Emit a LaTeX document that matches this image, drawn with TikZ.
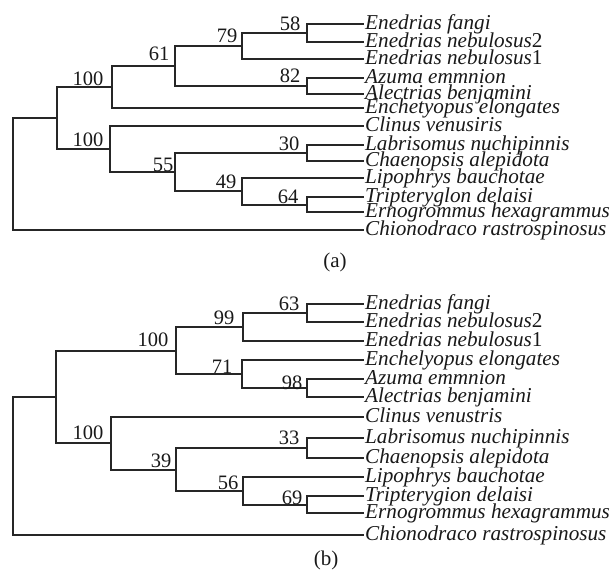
\documentclass[tikz,border=0pt]{standalone}
\usepackage{fontspec}
\setmainfont{Liberation Serif}
\begin{document}
\begin{tikzpicture}[x=1pt,y=-1pt,
  br/.style={draw=black!85, line width=1.2pt},
  leaf/.style={anchor=west, inner xsep=1pt, inner ysep=0pt,
    font=\fontsize{21.2}{21.2}\selectfont\itshape, text=black!90,
    text height=10.6pt, text depth=0pt},
  sup/.style={font=\fontsize{20.5}{20.5}\selectfont, inner sep=0pt,
    text height=13.8pt, text depth=0pt, text=black!90},
  capt/.style={font=\fontsize{21}{21}\selectfont, inner sep=0pt, text=black!90}]
\useasboundingbox (0,0) rectangle (615,570);

% ---------------- tree (a) ----------------
\node[leaf] (a1)  at (364,24)  {Enedrias fangi};
\node[leaf] (a2)  at (364,42)  {Enedrias nebulosus{\upshape 2}};
\node[leaf] (a3)  at (364,59)  {Enedrias nebulosus{\upshape 1}};
\node[leaf] (a4)  at (364,78)  {Azuma emmnion};
\node[leaf] (a5)  at (364,94)  {Alectrias benjamini};
\node[leaf] (a6)  at (364,108) {Enchetyopus elongates};
\node[leaf] (a7)  at (364,126) {Clinus venusiris};
\node[leaf] (a8)  at (364,145) {Labrisomus nuchipinnis};
\node[leaf] (a9)  at (364,161) {Chaenopsis alepidota};
\node[leaf] (a10) at (364,178) {Lipophrys bauchotae};
\node[leaf] (a11) at (364,197) {Tripteryglon delaisi};
\node[leaf] (a12) at (364,212) {Ernogrommus hexagrammus};
\node[leaf] (a13) at (364,230) {Chionodraco rastrospinosus};

\coordinate (a58) at (307,33);
\coordinate (a79) at (242,46);
\coordinate (a82) at (307,86);
\coordinate (a61) at (175,66);
\coordinate (aU)  at (112,87);
\coordinate (a30) at (307,153);
\coordinate (a64) at (307,205);
\coordinate (a49) at (242,191);
\coordinate (a55) at (175,172);
\coordinate (aL)  at (110,149);
\coordinate (aA)  at (57,118);
\coordinate (aR)  at (13,174);

\draw[br] (a58) |- (a1.west);  \draw[br] (a58) |- (a2.west);
\draw[br] (a79) |- (a58);      \draw[br] (a79) |- (a3.west);
\draw[br] (a82) |- (a4.west);  \draw[br] (a82) |- (a5.west);
\draw[br] (a61) |- (a79);      \draw[br] (a61) |- (a82);
\draw[br] (aU)  |- (a61);      \draw[br] (aU)  |- (a6.west);
\draw[br] (a30) |- (a8.west);  \draw[br] (a30) |- (a9.west);
\draw[br] (a64) |- (a11.west); \draw[br] (a64) |- (a12.west);
\draw[br] (a49) |- (a10.west); \draw[br] (a49) |- (a64);
\draw[br] (a55) |- (a30);      \draw[br] (a55) |- (a49);
\draw[br] (aL)  |- (a7.west);  \draw[br] (aL)  |- (a55);
\draw[br] (aA)  |- (aU);       \draw[br] (aA)  |- (aL);
\draw[br] (aR)  |- (aA);       \draw[br] (aR)  |- (a13.west);

\node[sup] (la58) at (290,24)  {58};
\node[sup] (la79) at (227,36)  {79};
\node[sup] (la61) at (159,54)  {61};
\node[sup] (laU)  at (88,79)   {100};
\node[sup] (la82) at (290,76)  {82};
\node[sup] (laL)  at (88,140)  {100};
\node[sup] (la30) at (289,144) {30};
\node[sup] (la55) at (163,165) {55};
\node[sup] (la49) at (226,182) {49};
\node[sup] (la64) at (288,197) {64};

\node[capt] (capa) at (335,262) {(a)};

% ---------------- tree (b) ----------------
\node[leaf] (b1)  at (364,304) {Enedrias fangi};
\node[leaf] (b2)  at (364,322) {Enedrias nebulosus{\upshape 2}};
\node[leaf] (b3)  at (364,341) {Enedrias nebulosus{\upshape 1}};
\node[leaf] (b4)  at (364,360) {Enchelyopus elongates};
\node[leaf] (b5)  at (364,379) {Azuma emmnion};
\node[leaf] (b6)  at (364,397) {Alectrias benjamini};
\node[leaf] (b7)  at (364,417) {Clinus venustris};
\node[leaf] (b8)  at (364,438) {Labrisomus nuchipinnis};
\node[leaf] (b9)  at (364,458) {Chaenopsis alepidota};
\node[leaf] (b10) at (364,477) {Lipophrys bauchotae};
\node[leaf] (b11) at (364,496) {Tripterygion delaisi};
\node[leaf] (b12) at (364,513) {Ernogrommus hexagrammus};
\node[leaf] (b13) at (364,535) {Chionodraco rastrospinosus};

\coordinate (b63) at (307,313);
\coordinate (b99) at (243,327);
\coordinate (b98) at (307,388);
\coordinate (b71) at (242,374);
\coordinate (bU)  at (176,351);
\coordinate (b33) at (307,448);
\coordinate (b69) at (307,505);
\coordinate (b56) at (243,491);
\coordinate (b39) at (176,470);
\coordinate (bL)  at (111,443);
\coordinate (bB)  at (56,397);
\coordinate (bR)  at (13,466);

\draw[br] (b63) |- (b1.west);  \draw[br] (b63) |- (b2.west);
\draw[br] (b99) |- (b63);      \draw[br] (b99) |- (b3.west);
\draw[br] (b98) |- (b5.west);  \draw[br] (b98) |- (b6.west);
\draw[br] (b71) |- (b4.west);  \draw[br] (b71) |- (b98);
\draw[br] (bU)  |- (b99);      \draw[br] (bU)  |- (b71);
\draw[br] (b33) |- (b8.west);  \draw[br] (b33) |- (b9.west);
\draw[br] (b69) |- (b11.west); \draw[br] (b69) |- (b12.west);
\draw[br] (b56) |- (b10.west); \draw[br] (b56) |- (b69);
\draw[br] (b39) |- (b33);      \draw[br] (b39) |- (b56);
\draw[br] (bL)  |- (b7.west);  \draw[br] (bL)  |- (b39);
\draw[br] (bB)  |- (bU);       \draw[br] (bB)  |- (bL);
\draw[br] (bR)  |- (bB);       \draw[br] (bR)  |- (b13.west);

\node[sup] (lb63) at (289,304) {63};
\node[sup] (lb99) at (224,318) {99};
\node[sup] (lbU)  at (153,340) {100};
\node[sup] (lb71) at (222,367) {71};
\node[sup] (lb98) at (292,383) {98};
\node[sup] (lbL)  at (88,433)  {100};
\node[sup] (lb33) at (289,438) {33};
\node[sup] (lb39) at (161,461) {39};
\node[sup] (lb56) at (228,483) {56};
\node[sup] (lb69) at (292,498) {69};

\node[capt] (capb) at (326,560) {(b)};
\end{tikzpicture}
\end{document}
